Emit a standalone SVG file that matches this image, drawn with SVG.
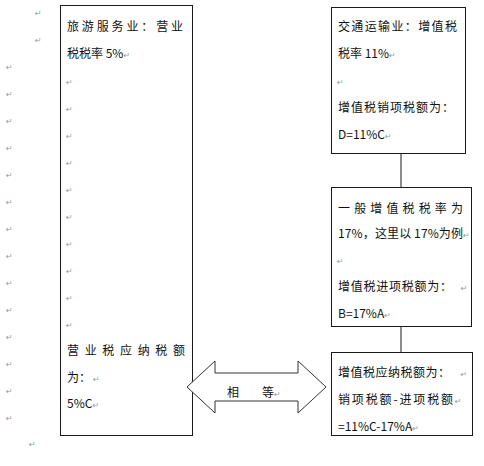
<svg xmlns="http://www.w3.org/2000/svg" width="484" height="466" viewBox="0 0 484 466">
<style>
.box{fill:#fff;stroke:#1a1a1a;stroke-width:1}
.t{font-family:"Noto Sans CJK SC","Noto Sans CJK JP",sans-serif;font-size:12px;fill:#111}
.pm{font-family:"DejaVu Sans",sans-serif;font-size:8px;fill:#999}
.ln{stroke:#1a1a1a;stroke-width:1;fill:none}
.arr{fill:#fff;stroke:#333;stroke-width:1}
</style>
<rect width="484" height="466" fill="#fff"/>
<g id="marks">
<text class="pm" x="35" y="16">↵</text>
<text class="pm" x="35" y="43">↵</text>
<text class="pm" x="6" y="70">↵</text>
<text class="pm" x="6" y="97">↵</text>
<text class="pm" x="6" y="124">↵</text>
<text class="pm" x="6" y="151">↵</text>
<text class="pm" x="6" y="178">↵</text>
<text class="pm" x="6" y="205">↵</text>
<text class="pm" x="6" y="232">↵</text>
<text class="pm" x="6" y="259">↵</text>
<text class="pm" x="6" y="286">↵</text>
<text class="pm" x="6" y="313">↵</text>
<text class="pm" x="6" y="340">↵</text>
<text class="pm" x="6" y="367">↵</text>
<text class="pm" x="6" y="394">↵</text>
<text class="pm" x="6" y="421">↵</text>
<text class="pm" x="29" y="447">↵</text>
</g>
<g id="connectors">
<line class="ln" x1="401" y1="153" x2="401" y2="187"/>
<line class="ln" x1="401" y1="326" x2="401" y2="352"/>
</g>
<g id="left-box">
<rect class="box" x="60.5" y="5.5" width="132" height="430"/>
<text class="t" x="67" y="31" textLength="116" lengthAdjust="spacing">旅游服务业：营业</text>
<text class="t" x="67" y="58">税税率 5%<tspan class="pm">↵</tspan></text>
<text class="pm" x="66" y="85">↵</text>
<text class="pm" x="66" y="112">↵</text>
<text class="pm" x="66" y="139">↵</text>
<text class="pm" x="66" y="166">↵</text>
<text class="pm" x="66" y="193">↵</text>
<text class="pm" x="66" y="220">↵</text>
<text class="pm" x="66" y="247">↵</text>
<text class="pm" x="66" y="274">↵</text>
<text class="pm" x="66" y="301">↵</text>
<text class="pm" x="66" y="328">↵</text>
<text class="t" x="67" y="355" textLength="118" lengthAdjust="spacing">营业税应纳税额</text>
<text class="t" x="67" y="382">为：<tspan class="pm" dx="2">↵</tspan></text>
<text class="t" x="67" y="408" font-size="11">5%C<tspan class="pm">↵</tspan></text>
</g>
<g id="box-transport">
<rect class="box" x="331.5" y="7.5" width="134" height="146"/>
<text class="t" x="338" y="31" textLength="119" lengthAdjust="spacing">交通运输业：增值税</text>
<text class="t" x="338" y="58">税率 11%<tspan class="pm">↵</tspan></text>
<text class="pm" x="337" y="85">↵</text>
<text class="t" x="338" y="112" textLength="116" lengthAdjust="spacing">增值税销项税额为：</text>
<text class="t" x="338" y="139">D=11%C<tspan class="pm">↵</tspan></text>
</g>
<g id="box-general">
<rect class="box" x="331.5" y="187.5" width="140" height="139"/>
<text class="t" x="338" y="213" font-size="13" textLength="125" lengthAdjust="spacing">一般增值税税率为</text>
<text class="t" x="338" y="238"><tspan textLength="125" lengthAdjust="spacing">17%，这里以 17%为例</tspan><tspan class="pm">↵</tspan></text>
<text class="pm" x="337" y="264">↵</text>
<text class="t" x="338" y="291"><tspan textLength="114" lengthAdjust="spacing">增值税进项税额为：</tspan><tspan class="pm" dx="8">↵</tspan></text>
<text class="t" x="338" y="318">B=17%A<tspan class="pm">↵</tspan></text>
</g>
<g id="box-payable">
<rect class="box" x="331.5" y="352.5" width="141" height="83"/>
<text class="t" x="338" y="377"><tspan textLength="112" lengthAdjust="spacing">增值税应纳税额为：</tspan><tspan class="pm" dx="10">↵</tspan></text>
<text class="t" x="338" y="404"><tspan textLength="115" lengthAdjust="spacing">销项税额-进项税额</tspan><tspan class="pm">↵</tspan></text>
<text class="t" x="338" y="431">=11%C-17%A<tspan class="pm">↵</tspan></text>
</g>
<g id="equal-arrow">
<polygon class="arr" points="187,387 215,361 215,373 298,373 298,361 326,387 298,413 298,401 215,401 215,413"/>
<text class="t" x="227" y="397">相<tspan dx="23">等</tspan><tspan class="pm">↵</tspan></text>
</g>
</svg>
